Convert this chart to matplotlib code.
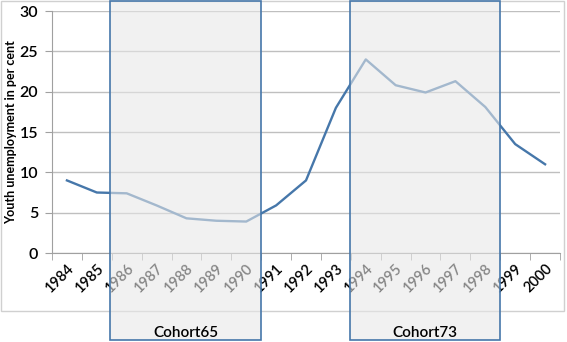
import matplotlib.pyplot as plt
import matplotlib.transforms as mtransforms
from matplotlib.patches import Rectangle
import numpy as np

plt.rcParams['font.family'] = ['Lato', 'DejaVu Sans']

# Datos
years = [1984, 1985, 1986, 1987, 1988, 1989, 1990, 1991, 1992,
         1993, 1994, 1995, 1996, 1997, 1998, 1999, 2000]
unemployment = [9.0, 7.5, 7.4, 5.9, 4.3, 4.0, 3.9, 5.9, 9.0,
                18.0, 24.0, 20.8, 19.9, 21.3, 18.1, 13.5, 11.0]
cohort_names = ['Cohort65', 'Cohort73']
cohort_spans = [(1985.45, 1990.5), (1993.47, 1998.48)]
y_ticks = [0, 5, 10, 15, 20, 25, 30]

fig = plt.figure(figsize=(5.67, 3.42), dpi=100)
ax = fig.add_axes([0.0917, 0.2602, 0.896, 0.7076])

# Marco exterior del grafico
fig.add_artist(Rectangle((0.002, 0.0906), 0.993, 0.906, transform=fig.transFigure,
                         fill=False, edgecolor='#d0d0d0', linewidth=1.0))

x = np.array(years)
ax.plot(x, unemployment, color='#4677aa', linewidth=1.7, zorder=3)

ax.set_xlim(years[0] - 0.5, years[-1] + 0.5)
ax.set_ylim(0, 30)
ax.set_yticks(y_ticks)
ax.set_yticklabels([str(v) for v in y_ticks], fontsize=11.5, fontweight='semibold')
ax.yaxis.grid(True, color='#bfbfbf', linewidth=1.0)
ax.set_axisbelow(True)

ax.set_xticks(x)
ax.set_xticklabels([str(y) for y in years], rotation=45, ha='right',
                   rotation_mode='anchor', fontsize=10.5, fontweight='semibold')
ax.set_xticks(np.arange(years[0] - 0.5, years[-1] + 1), minor=True)
ax.tick_params(axis='x', which='major', length=0, pad=6)
ax.tick_params(axis='x', which='minor', length=5, color='#a0a0a0')
ax.tick_params(axis='y', length=5, color='#a0a0a0', pad=5)

for s in ['top', 'right']:
    ax.spines[s].set_visible(False)
ax.spines['left'].set_color('#a0a0a0')
ax.spines['bottom'].set_color('#a0a0a0')

ax.set_ylabel('Youth unemployment in per cent', fontsize=9, fontweight='bold', labelpad=2)

# Rectangulos de las cohortes encima de todo
trans = mtransforms.blended_transform_factory(ax.transData, fig.transFigure)
for name, (x0, x1) in zip(cohort_names, cohort_spans):
    rect = Rectangle((x0, 0.006), x1 - x0, 0.992, transform=trans,
                     facecolor='#e8e8e8', alpha=0.58, edgecolor='none', zorder=10)
    fig.add_artist(rect)
    border = Rectangle((x0, 0.006), x1 - x0, 0.992, transform=trans,
                       fill=False, edgecolor='#4677aa', linewidth=1.2, zorder=11)
    fig.add_artist(border)
    fig.text((x0 + x1) / 2, 0.026, name, transform=trans, ha='center', va='center',
             fontsize=11, fontweight='semibold', zorder=12)

fig.savefig('out.png', dpi=100)
